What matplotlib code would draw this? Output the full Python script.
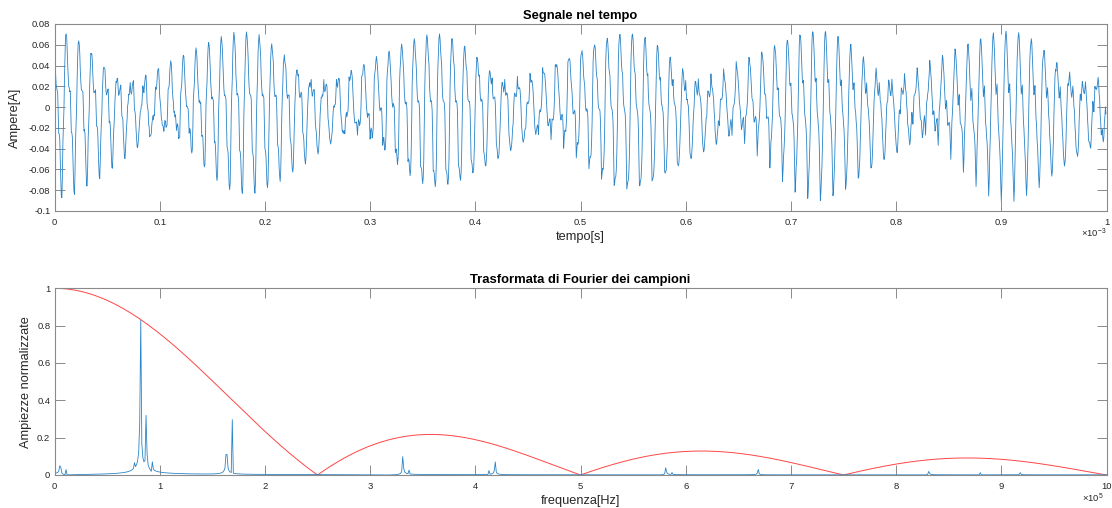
import numpy as np
import matplotlib
matplotlib.use("Agg")
import matplotlib.pyplot as plt
from matplotlib.ticker import FixedLocator

plt.rcParams["font.family"] = ["Liberation Sans", "DejaVu Sans"]
plt.rcParams["mathtext.fontset"] = "custom"
plt.rcParams["mathtext.rm"] = "Liberation Sans"
plt.rcParams["mathtext.it"] = "Liberation Sans:italic"

# Acquisition settings
FS = 2.0e6            # sampling rate [Hz]
N_SAMPLES = 2000      # 1 ms record
I_REF = 0.047         # current corresponding to a normalised amplitude of 1 [A]
F_HOLD = 2.5e5        # first zero of the hold-circuit |sinc| envelope [Hz]

# Spectral lines of the measured current: frequency [Hz], normalised peak height, phase [rad]
line_freq = np.array([5.5e3, 11e3, 76.25e3, 81.75e3, 87.25e3, 92.75e3,
                      163.5e3, 169e3, 331.25e3, 337e3, 413e3, 418.75e3,
                      581.25e3, 587e3, 668.75e3, 831.25e3, 880e3, 917.75e3])
line_height = np.array([0.045, 0.03, 0.05, 0.83, 0.32, 0.05,
                        0.11, 0.30, 0.10, 0.03, 0.025, 0.07,
                        0.04, 0.015, 0.03, 0.02, 0.012, 0.012])
line_phase = np.array([1.57, -1.57, 0.0, 0.0, 0.0, 0.0,
                       1.86, 1.86, 1.57, 1.57, -1.57, -1.57,
                       1.57, 1.57, -1.57, 1.57, -1.57, 1.57])

# Tick values
t_ticks = np.arange(0, 11) * 1e-4
t_labels = ["0", "0.1", "0.2", "0.3", "0.4", "0.5", "0.6", "0.7", "0.8", "0.9", "1"]
i_ticks = np.arange(-0.1, 0.0801, 0.02)
i_labels = ["-0.1", "-0.08", "-0.06", "-0.04", "-0.02", "0", "0.02", "0.04", "0.06", "0.08"]
f_ticks = np.arange(0, 11) * 1e5
f_labels = [str(k) for k in range(11)]
a_ticks = np.arange(0, 1.01, 0.2)
a_labels = ["0", "0.2", "0.4", "0.6", "0.8", "1"]

# Time-domain current rebuilt from its spectral lines (bin-offset corrected so that
# each line shows its peak height in the 1 kHz-resolution spectrum)
t = np.arange(N_SAMPLES) / FS
record = N_SAMPLES / FS
bin_offset = line_freq * record - np.round(line_freq * record)
line_amp = line_height * I_REF / np.abs(np.sinc(bin_offset))
current = np.zeros_like(t)
for f0, a0, p0 in zip(line_freq, line_amp, line_phase):
    current += a0 * np.cos(2 * np.pi * f0 * t + p0)

# Spectrum of the record and hold envelope
spec_f = np.fft.rfftfreq(N_SAMPLES, 1 / FS)
spec = 2 * np.abs(np.fft.rfft(current)) / N_SAMPLES / I_REF
envelope = np.abs(np.sinc(spec_f / F_HOLD))

BLUE = "#2a84c8"
RED = "#ff4545"
AX_COL = "#8a8a8a"
TXT_COL = "#262626"

fig = plt.figure(figsize=(11.12, 5.08), dpi=100)
W, H = 1112, 508
ax1 = fig.add_axes([54.5 / W, 1 - 211 / H, 1052 / W, 187 / H])
ax2 = fig.add_axes([54.5 / W, 1 - 475 / H, 1052 / W, 186.7 / H])


def style(ax):
    for s in ax.spines.values():
        s.set_color(AX_COL)
        s.set_linewidth(0.8)
    ax.tick_params(axis="both", direction="in", length=7.5, width=0.7,
                   top=True, right=True, colors=AX_COL, labelcolor=TXT_COL,
                   labelsize=6.8)
    ax.tick_params(axis="y", pad=3.0)
    ax.tick_params(axis="x", pad=5.0)


ax1.plot(t, current, color=BLUE, lw=0.6)
ax1.set_xlim(0, 1e-3)
ax1.set_ylim(-0.1, 0.08)
ax1.xaxis.set_major_locator(FixedLocator(t_ticks))
ax1.set_xticklabels(t_labels)
ax1.yaxis.set_major_locator(FixedLocator(i_ticks))
ax1.set_yticklabels(i_labels)
style(ax1)
ax1.set_title("Segnale nel tempo", fontsize=9.4, fontweight="bold", pad=3.5, color="black")
ax1.set_xlabel("tempo[s]", fontsize=9.2, color=TXT_COL)
ax1.xaxis.set_label_coords(0.5, -0.105)
ax1.set_ylabel("Ampere[A]", fontsize=9.2, color=TXT_COL)
ax1.yaxis.set_label_coords(-0.0315, 0.5)
ax1.text(0.9995, -0.118, "×10$^{-3}$", transform=ax1.transAxes, ha="right",
         va="center", fontsize=6.8, color=TXT_COL)

ax2.plot(spec_f, envelope, color=RED, lw=0.7)
ax2.plot(spec_f, spec, color=BLUE, lw=0.6)
ax2.set_xlim(0, 1e6)
ax2.set_ylim(0, 1)
ax2.xaxis.set_major_locator(FixedLocator(f_ticks))
ax2.set_xticklabels(f_labels)
ax2.yaxis.set_major_locator(FixedLocator(a_ticks))
ax2.set_yticklabels(a_labels)
style(ax2)
ax2.set_title("Trasformata di Fourier dei campioni", fontsize=9.4, fontweight="bold",
              pad=3.5, color="black")
ax2.set_xlabel("frequenza[Hz]", fontsize=9.2, color=TXT_COL)
ax2.xaxis.set_label_coords(0.5, -0.105)
ax2.set_ylabel("Ampiezze normalizzate", fontsize=9.2, color=TXT_COL)
ax2.yaxis.set_label_coords(-0.021, 0.5)
ax2.text(0.9975, -0.123, "×10$^{5}$", transform=ax2.transAxes, ha="right",
         va="center", fontsize=6.8, color=TXT_COL)

fig.savefig("out.png", dpi=100)
